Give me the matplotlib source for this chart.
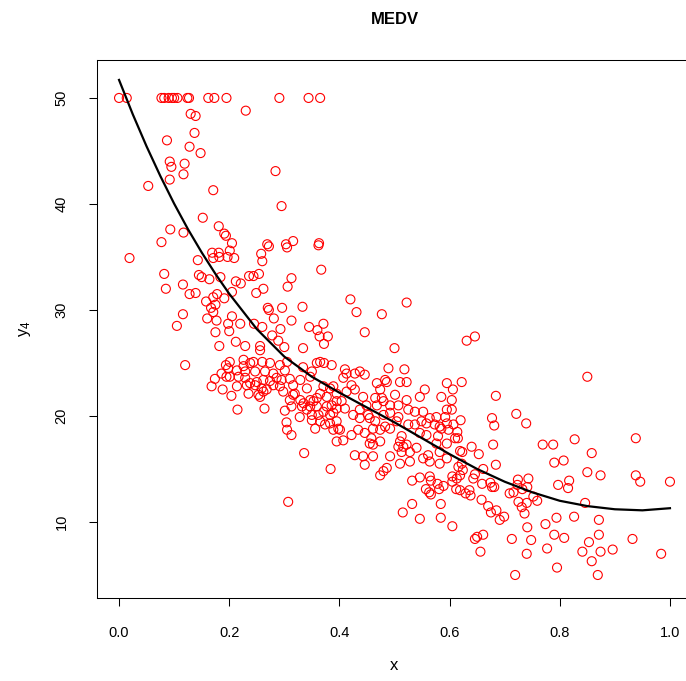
import numpy as np
import matplotlib.pyplot as plt

plt.rcParams['font.family'] = ['Liberation Sans', 'DejaVu Sans']

# points (x = scaled LSTAT, y = MEDV)
x_top = [0.0, 0.014, 0.077, 0.082, 0.090, 0.096, 0.100, 0.106, 0.124, 0.127,
         0.162, 0.173, 0.195, 0.291, 0.344, 0.365]
y_top = [50.0] * len(x_top)

x_a = [0.230, 0.130, 0.139, 0.137, 0.087, 0.128, 0.148, 0.092, 0.095, 0.119,
       0.117, 0.092, 0.053, 0.171, 0.152, 0.093, 0.117, 0.181, 0.191, 0.194,
       0.077, 0.205, 0.269, 0.284, 0.295, 0.303, 0.316, 0.363]
y_a = [48.8, 48.5, 48.3, 46.7, 46.0, 45.4, 44.8, 44.0, 43.5, 43.8,
       42.8, 42.3, 41.7, 41.3, 38.7, 37.6, 37.3, 37.9, 37.2, 37.0,
       36.4, 36.3, 36.2, 43.1, 39.8, 36.2, 36.5, 36.3]

x_b = [0.019, 0.082, 0.085, 0.116, 0.128, 0.139, 0.116, 0.105, 0.120, 0.143,
       0.169, 0.181, 0.171, 0.182, 0.197, 0.145, 0.150, 0.164, 0.184, 0.158,
       0.171, 0.178, 0.175, 0.191, 0.167, 0.171, 0.160, 0.177, 0.198, 0.175,
       0.182, 0.200, 0.194, 0.198, 0.186]
y_b = [34.9, 33.4, 32.0, 32.4, 31.5, 31.6, 29.6, 28.5, 24.8, 34.7,
       35.4, 35.4, 34.9, 35.0, 35.0, 33.3, 33.1, 32.9, 33.1, 30.8,
       31.2, 31.5, 30.5, 31.1, 30.2, 29.8, 29.2, 29.0, 28.7, 27.9,
       26.6, 28.0, 24.8, 24.5, 24.0]

x_c = [0.201, 0.272, 0.305, 0.362, 0.258, 0.260, 0.209, 0.367, 0.212, 0.221,
       0.236, 0.244, 0.254, 0.313, 0.306, 0.262, 0.249, 0.205, 0.420, 0.431,
       0.333, 0.296, 0.270, 0.272, 0.281, 0.313, 0.205, 0.220, 0.245, 0.260,
       0.293, 0.345, 0.371, 0.360, 0.379, 0.364, 0.278, 0.289, 0.300, 0.334,
       0.372, 0.212, 0.229, 0.256, 0.256,
       0.201, 0.226, 0.226, 0.238, 0.244, 0.260, 0.274, 0.292, 0.305, 0.214,
       0.229, 0.247, 0.265, 0.280, 0.301, 0.334, 0.350, 0.359, 0.365, 0.372,
       0.386, 0.410, 0.428, 0.413]
y_c = [35.6, 36.0, 35.9, 36.1, 35.3, 34.6, 34.9, 33.8, 32.7, 32.5,
       33.2, 33.2, 33.4, 33.0, 32.2, 32.0, 31.6, 31.7, 31.0, 29.8,
       30.3, 30.2, 30.2, 30.0, 29.2, 29.0, 29.4, 28.7, 28.7, 28.4,
       28.2, 28.4, 28.7, 28.1, 27.5, 27.5, 27.6, 27.1, 26.5, 26.4,
       26.8, 27.0, 26.6, 26.6, 26.2,
       25.1, 25.3, 24.7, 25.0, 25.1, 25.1, 25.0, 24.8, 25.1, 24.3,
       24.2, 24.2, 24.2, 24.0, 24.3, 24.6, 24.2, 25.0, 25.1, 25.0,
       24.8, 24.4, 24.0, 24.0]

x_d = [0.522, 0.477, 0.446, 0.500, 0.631, 0.646, 0.437, 0.489, 0.518, 0.606,
       0.622, 0.684, 0.850, 0.721]
y_d = [30.7, 29.6, 27.9, 26.4, 27.1, 27.5, 24.2, 24.5, 24.4, 22.5,
       23.2, 21.9, 23.7, 20.2]

x_e = [0.174, 0.168, 0.188, 0.195,
       0.201, 0.217, 0.229, 0.238, 0.250, 0.262, 0.274, 0.286, 0.295, 0.310,
       0.329, 0.347, 0.214, 0.232, 0.247, 0.259, 0.268, 0.253, 0.280, 0.292,
       0.298, 0.316, 0.319, 0.341, 0.204, 0.235, 0.262, 0.256, 0.316, 0.310,
       0.329, 0.335, 0.347, 0.353, 0.359, 0.365, 0.377, 0.383, 0.371, 0.389,
       0.395, 0.395, 0.347, 0.359, 0.341, 0.350, 0.362, 0.377, 0.386, 0.395,
       0.371, 0.383, 0.389, 0.350, 0.365, 0.374, 0.383, 0.395, 0.389, 0.398,
       0.395, 0.356, 0.332, 0.313,
       0.215, 0.264, 0.336, 0.384, 0.304, 0.305, 0.313, 0.328, 0.301]
y_e = [23.5, 22.8, 22.5, 23.7,
       23.7, 23.7, 23.6, 23.1, 23.2, 23.4, 23.3, 23.6, 23.4, 23.5,
       23.4, 23.7, 22.8, 22.9, 22.9, 22.6, 22.5, 22.0, 22.9, 22.8,
       22.3, 22.9, 22.1, 22.6, 21.9, 22.1, 22.3, 21.8, 22.0, 21.5,
       21.5, 21.2, 21.5, 21.4, 21.7, 22.1, 21.8, 22.6, 22.8, 22.8,
       22.1, 21.4, 20.9, 20.9, 20.6, 20.1, 20.1, 20.9, 21.0, 20.7,
       20.4, 20.1, 20.3, 19.6, 19.5, 19.2, 19.3, 19.5, 18.7, 18.8,
       17.6, 18.8, 20.9, 20.9,
       20.6, 20.7, 16.5, 15.0, 19.4, 18.7, 18.2, 19.9, 20.5]

x_f = [0.407, 0.422, 0.413, 0.428, 0.404, 0.410, 0.425, 0.437, 0.446, 0.468,
       0.474, 0.486, 0.483, 0.510, 0.522, 0.501, 0.522, 0.546, 0.555, 0.585,
       0.595, 0.477, 0.465, 0.443, 0.449, 0.468, 0.480, 0.492, 0.507, 0.437,
       0.455, 0.465, 0.452, 0.480, 0.492, 0.507, 0.525, 0.537, 0.552, 0.564,
       0.576, 0.595, 0.549, 0.558, 0.573, 0.582, 0.537, 0.525, 0.504, 0.492,
       0.483, 0.474, 0.461, 0.434, 0.422, 0.401, 0.407, 0.446, 0.458, 0.474,
       0.461, 0.455, 0.510, 0.516, 0.522, 0.528, 0.513, 0.507, 0.546, 0.558,
       0.579, 0.585, 0.598, 0.576, 0.595, 0.582, 0.561, 0.552, 0.564, 0.582,
       0.595, 0.428, 0.443, 0.461, 0.446, 0.486, 0.480, 0.528, 0.510, 0.492,
       0.540, 0.592, 0.595, 0.513]
y_f = [23.6, 22.9, 22.3, 22.5, 21.4, 20.7, 20.1, 20.6, 23.9, 23.1,
       22.5, 23.2, 23.4, 23.2, 23.2, 22.0, 21.5, 21.8, 22.5, 21.8,
       23.1, 21.7, 21.7, 21.8, 21.0, 21.0, 21.4, 21.0, 21.0, 19.8,
       19.8, 19.5, 20.1, 20.1, 20.3, 19.9, 20.6, 20.4, 20.4, 19.8,
       19.9, 20.6, 19.5, 19.3, 19.2, 19.0, 19.2, 19.2, 19.5, 18.8,
       19.0, 18.7, 18.8, 18.7, 18.2, 18.7, 17.7, 18.4, 17.9, 17.6,
       17.3, 17.4, 17.6, 17.1, 17.3, 16.6, 16.6, 17.1, 18.4, 18.2,
       18.1, 18.8, 18.7, 17.4, 17.4, 16.6, 16.3, 16.0, 15.7, 15.5,
       16.0, 16.3, 16.2, 16.2, 15.4, 15.1, 14.8, 15.7, 15.5, 16.2,
       17.0, 19.9, 19.3, 18.1]

x_g = [0.604, 0.604, 0.739, 0.677, 0.681, 0.620, 0.607, 0.614, 0.610, 0.615,
       0.769, 0.788, 0.640, 0.653, 0.619, 0.623, 0.679, 0.684, 0.661, 0.622,
       0.616, 0.790, 0.624]
y_g = [21.5, 20.6, 19.3, 19.8, 19.1, 19.6, 19.2, 18.5, 17.9, 17.9,
       17.3, 17.3, 17.1, 16.4, 16.7, 16.6, 17.3, 15.4, 15.0, 15.5,
       15.2, 15.6, 14.9]

x_h = [0.646, 0.643, 0.619, 0.659, 0.674, 0.681, 0.677, 0.636, 0.629, 0.638,
       0.619, 0.658, 0.670, 0.685, 0.699, 0.691, 0.675, 0.646, 0.650, 0.661,
       0.656, 0.724, 0.743, 0.723, 0.741, 0.732, 0.709, 0.716, 0.752, 0.759,
       0.725, 0.740, 0.731, 0.736, 0.741, 0.713, 0.748, 0.740, 0.827, 0.858,
       0.938, 0.807, 0.850, 0.874, 0.938, 0.946, 1.000, 0.817, 0.797, 0.815,
       0.846, 0.774, 0.794, 0.826, 0.871, 0.790, 0.808, 0.853, 0.871, 0.932,
       0.777, 0.841, 0.874, 0.896, 0.984, 0.858, 0.795, 0.719, 0.869]
y_h = [14.5, 14.1, 14.4, 13.6, 13.7, 13.3, 13.3, 13.0, 12.7, 12.5,
       13.0, 12.1, 11.5, 11.1, 10.5, 10.2, 10.9, 8.4, 8.6, 8.8,
       7.2, 14.0, 14.1, 13.5, 13.3, 13.1, 12.7, 12.8, 12.4, 12.0,
       11.9, 11.8, 11.4, 10.8, 9.5, 8.4, 8.3, 7.0, 17.8, 16.5,
       17.9, 15.8, 14.7, 14.4, 14.4, 13.8, 13.8, 13.9, 13.5, 13.2,
       11.8, 9.8, 10.4, 10.5, 10.2, 8.8, 8.5, 8.1, 8.8, 8.4,
       7.5, 7.2, 7.2, 7.4, 7.0, 6.3, 5.7, 5.0, 5.0]

x_i = [0.307, 0.474, 0.532, 0.546, 0.564, 0.566, 0.578, 0.589, 0.605, 0.613,
       0.605, 0.612, 0.557, 0.563, 0.566, 0.581, 0.532, 0.584, 0.515, 0.546,
       0.584, 0.605]
y_i = [11.9, 14.4, 13.9, 14.2, 14.3, 13.9, 13.6, 13.4, 14.3, 14.1,
       13.8, 13.1, 13.1, 12.8, 12.6, 13.1, 11.7, 11.7, 10.9, 10.3,
       10.4, 9.6]

# fitted curve
curve_x = [0, .025, .05, .075, .1, .125, .15, .175, .2, .25, .3, .35, .4,
           .45, .5, .55, .6, .65, .7, .75, .8, .85, .9, .95, 1.0]
curve_y = [51.7, 48.45, 45.43, 42.63, 40.03, 37.63, 35.43, 33.4, 31.53,
           28.2, 25.6, 23.7, 22.2, 20.8, 19.4, 17.9, 16.4, 15.0, 13.8,
           12.8, 12.0, 11.5, 11.2, 11.1, 11.3]

x = np.concatenate([x_top, x_a, x_b, x_c, x_d, x_e, x_f, x_g, x_h, x_i])
y = np.concatenate([y_top, y_a, y_b, y_c, y_d, y_e, y_f, y_g, y_h, y_i])

fig = plt.figure(figsize=(6.86, 6.81), dpi=100)
ax = fig.add_axes([97 / 686, 83 / 681, 595 / 686, 538 / 681])

ax.scatter(x, y, s=42, facecolors='none', edgecolors='red', linewidths=0.8)
ax.plot(curve_x, curve_y, color='black', lw=1.6)

ax.set_xlim(-0.04, 1.04)
ax.set_ylim(2.83, 53.58)
ax.set_xticks([0.0, 0.2, 0.4, 0.6, 0.8, 1.0])
ax.set_xticklabels(['0.0', '0.2', '0.4', '0.6', '0.8', '1.0'])
ax.set_yticks([10, 20, 30, 40, 50])
ax.tick_params(length=5.5, width=0.75, pad=15, labelsize=10.5)
ax.tick_params(axis='y', labelrotation=90)
for lab in ax.get_yticklabels():
    lab.set_va('center')
for s in ax.spines.values():
    s.set_linewidth(0.75)

ax.set_xlabel('x', fontsize=12)
ax.xaxis.set_label_coords(0.5, -67 / 538)
ax.xaxis.label.set_va('center')
ax.set_ylabel(r'$\mathregular{y_4}$', fontsize=12)
ax.yaxis.set_label_coords(-72 / 595, 0.5)
ax.yaxis.label.set_va('center')
ax.text(0.5, 1 + 40 / 538, 'MEDV', transform=ax.transAxes, ha='center',
        va='center', fontsize=12, fontweight='bold')

fig.savefig('out.png', dpi=100)
